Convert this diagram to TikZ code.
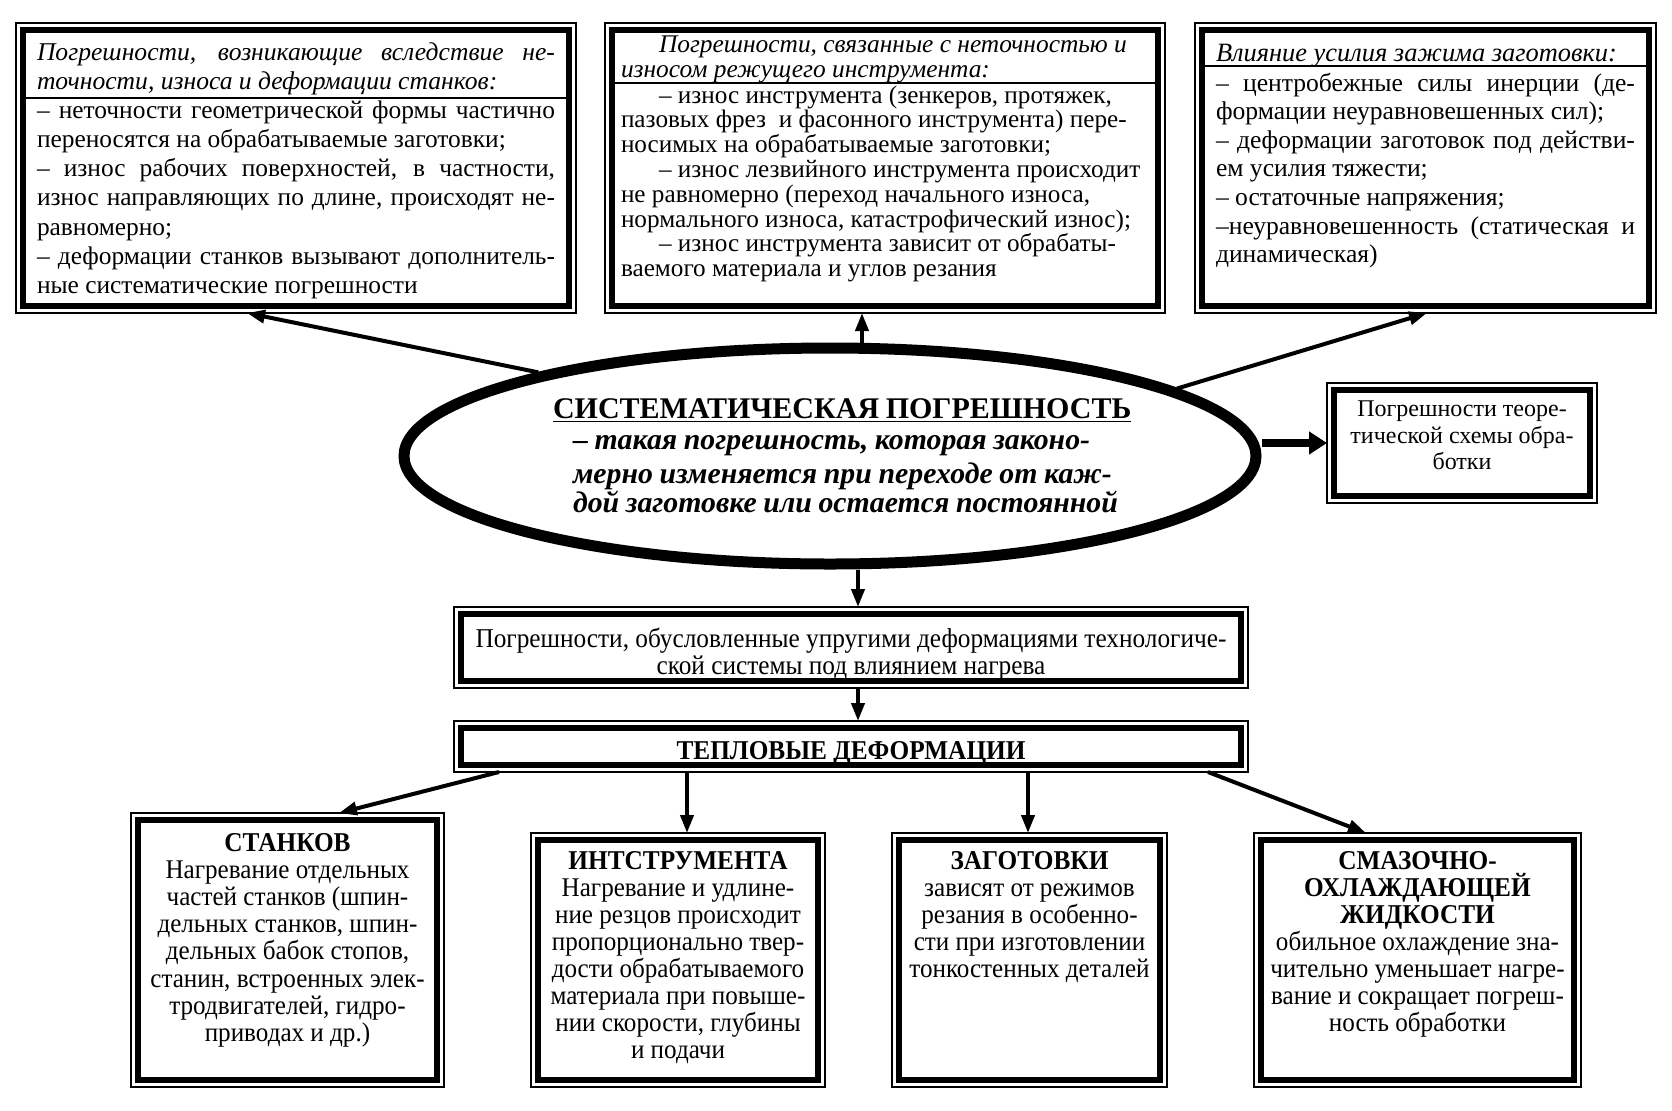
\documentclass[tikz,border=0pt]{standalone}
\usepackage{fontspec}
\setmainfont{Liberation Serif}
\newfontfamily\narrowfont[FakeStretch=0.93]{Liberation Serif}
\usetikzlibrary{arrows.meta,shapes.geometric}

% a line spread to the full width / a line left as it is
\newcommand{\jl}[1]{\makebox[\linewidth][s]{#1}\par}
\newcommand{\rl}[1]{\mbox{#1}\par}

\tikzset{
  dblbox/.style={draw, line width=3pt, inner sep=0pt, outer sep=3.5pt},
  arr/.style={-{Triangle[length=9pt,width=6.5pt]}, line width=2pt},
  bigarr/.style={-{Triangle[length=9pt,width=11pt]}, line width=4pt},
}

\begin{document}
\begin{tikzpicture}[x=0.5pt,y=-0.5pt]
  \useasboundingbox (0,0) rectangle (1672,1110);

  % top row
  \node[dblbox, inner xsep=7pt] (boxA) at (296,168) {\parbox[c][138pt][t]{259pt}{%
    \fontsize{12.7}{14.6}\selectfont\vspace*{6.5pt}%
    {\itshape\fontsize{12.8}{14.2}\selectfont
    \jl{Погрешности, возникающие вследствие не-}
    \rl{точности, износа и деформации станков:}}
    \jl{– неточности геометрической формы частично}
    \rl{переносятся на обрабатываемые заготовки;}
    \jl{– износ рабочих поверхностей, в частности,}
    \jl{износ направляющих по длине, происходят не-}
    \rl{равномерно;}
    \jl{– деформации станков вызывают дополнитель-}
    \rl{ные систематические погрешности}}};
  \node[dblbox, inner xsep=4.5pt] (boxB) at (885,168) {\parbox[c][138pt][t]{264pt}{%
    \fontsize{12.6}{12.4}\selectfont\vspace*{3pt}%
    {\itshape\fontsize{12.7}{12.3}\selectfont
    \rl{\hspace*{19pt}Погрешности, связанные с неточностью и}
    \rl{износом режущего инструмента:}}
    \vspace{0.5pt}
    \rl{\hspace*{19pt}– износ инструмента (зенкеров, протяжек,}
    \rl{пазовых фрез\ \ и фасонного инструмента) пере-}
    \rl{носимых на обрабатываемые заготовки;}
    \rl{\hspace*{19pt}– износ лезвийного инструмента происходит}
    \rl{не равномерно (переход начального износа,}
    \rl{нормального износа, катастрофический износ);}
    \rl{\hspace*{19pt}– износ инструмента зависит от обрабаты-}
    \rl{ваемого материала и углов резания}}};
  \node[dblbox, inner xsep=7pt] (boxC) at (1425.5,168) {\parbox[c][138pt][t]{209.5pt}{%
    \fontsize{12.8}{14.3}\selectfont\vspace*{7pt}%
    \rl{\itshape\fontsize{13.2}{14.3}\selectfont Влияние усилия зажима заготовки:}
    \vspace{0.6pt}
    \jl{– центробежные силы инерции (де-}
    \rl{формации неуравновешенных сил);}
    \jl{– деформации заготовок под действи-}
    \rl{ем усилия тяжести;}
    \rl{– остаточные напряжения;}
    \jl{–неуравновешенность (статическая и}
    \rl{динамическая)}}};
  \draw[line width=0.8pt, shorten <=3.5pt, shorten >=3.5pt] (boxA.west |- 0,98) -- (boxA.east |- 0,98);
  \draw[line width=0.8pt, shorten <=3.5pt, shorten >=3.5pt] (boxB.west |- 0,83) -- (boxB.east |- 0,83);
  \draw[line width=0.8pt, shorten <=3.5pt, shorten >=3.5pt] (boxC.west |- 0,66) -- (boxC.east |- 0,66);

  % centre
  \node[ellipse, draw, line width=5.5pt, minimum width=426pt, minimum height=108pt,
        inner sep=0pt, text width=285pt, align=left] (ell) at (830,456)
    {\fontsize{15}{17}\selectfont\bfseries
     \hspace*{4pt}\underline{СИСТЕМАТИЧЕСКАЯ ПОГРЕШНОСТЬ}\\[-1pt]
     \itshape\fontsize{14.9}{16.6}\selectfont
     \hspace*{14pt}\mbox{– такая погрешность, которая законо-}\\
     \hspace*{14pt}\mbox{мерно изменяется при переходе от каж-}\\
     \hspace*{14pt}\mbox{дой заготовке или остается постоянной}};
  \node[dblbox] (theo) at (1462,443) {\parbox[c][53pt][t]{128pt}{%
    \fontsize{12}{13.3}\selectfont\vspace*{5.5pt}\centering
    Погрешности теоре-\\тической схемы обра-\\ботки}};
  \node[dblbox] (mid) at (851,647.5) {\parbox[c][33.5pt][t]{390pt}{%
    \narrowfont\fontsize{13.6}{13.3}\selectfont\vspace*{7pt}\centering
    Погрешности, обусловленные упругими деформациями технологиче-\\ской системы под влиянием нагрева}};
  \node[dblbox] (tepl) at (851,746.5) {\parbox[c][18.5pt][t]{390pt}{%
    \narrowfont\fontsize{13.6}{16}\selectfont\bfseries\vspace*{6.5pt}\centering
    ТЕПЛОВЫЕ ДЕФОРМАЦИИ}};

  % bottom row
  \node[dblbox] (stank) at (287.5,950) {\parbox[c][130pt][t]{149.5pt}{%
    \narrowfont\fontsize{13.5}{13.6}\selectfont\vspace*{6.5pt}\centering
    {\fontsize{13.6}{13.6}\selectfont\bfseries СТАНКОВ}\\
    Нагревание отдельных\\
    частей станков (шпин-\\
    дельных станков, шпин-\\
    дельных бабок стопов,\\
    станин, встроенных элек-\\
    тродвигателей, гидро-\\
    приводах и др.)}};
  \node[dblbox] (instr) at (678,960) {\parbox[c][120pt][t]{140pt}{%
    \narrowfont\fontsize{13.5}{13.5}\selectfont\vspace*{5.5pt}\centering
    {\fontsize{13.6}{13.5}\selectfont\bfseries ИНТСТРУМЕНТА}\\
    Нагревание и удлине-\\
    ние резцов происходит\\
    пропорционально твер-\\
    дости обрабатываемого\\
    материала при повыше-\\
    нии скорости, глубины\\
    и подачи}};
  \node[dblbox] (zag) at (1029.5,960) {\parbox[c][120pt][t]{130.5pt}{%
    \narrowfont\fontsize{13.5}{13.5}\selectfont\vspace*{5.5pt}\centering
    {\fontsize{13.6}{13.5}\selectfont\bfseries ЗАГОТОВКИ}\\
    зависят от режимов\\
    резания в особенно-\\
    сти при изготовлении\\
    тонкостенных деталей}};
  \node[dblbox] (smaz) at (1417.5,960) {\parbox[c][120pt][t]{156.5pt}{%
    \narrowfont\fontsize{13.5}{13.5}\selectfont\vspace*{5.5pt}\centering
    {\fontsize{13.6}{13.5}\selectfont\bfseries СМАЗОЧНО-\\ОХЛАЖДАЮЩЕЙ\\ЖИДКОСТИ}\\
    обильное охлаждение зна-\\
    чительно уменьшает нагре-\\
    вание и сокращает погреш-\\
    ность обработки}};

  % thin outer lines of the frames
  \foreach \n in {boxA,boxB,boxC,theo,mid,tepl,stank,instr,zag,smaz}
    \draw[line width=0.7pt] (\n.north west) rectangle (\n.south east);

  % arrows
  \draw[arr] (ell.164) -- (247,0 |- boxA.south);
  \draw[arr] (862,0 |- ell.north) -- (862,0 |- boxB.south);
  \draw[arr] (ell.11) -- (1427,0 |- boxC.south);
  \draw[bigarr] (ell.east |- theo.west) -- (theo.west);
  \draw[arr] (858,0 |- ell.south) -- (858,0 |- mid.north);
  \draw[arr] (858,0 |- mid.south) -- (858,0 |- tepl.north);
  \draw[arr] (499,0 |- tepl.south) -- (339,0 |- stank.north);
  \draw[arr] (687,0 |- tepl.south) -- (687,0 |- instr.north);
  \draw[arr] (1028,0 |- tepl.south) -- (1028,0 |- zag.north);
  \draw[arr] (1208,0 |- tepl.south) -- (1366,0 |- smaz.north);
\end{tikzpicture}
\end{document}
